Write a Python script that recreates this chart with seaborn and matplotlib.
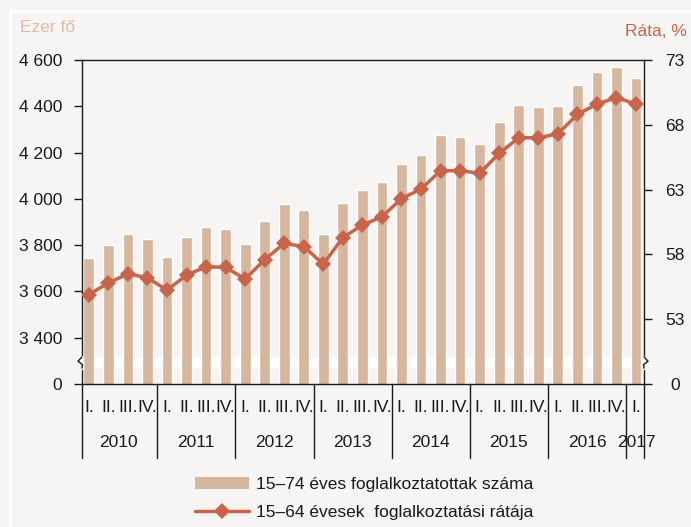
import numpy as np
import pandas as pd
import matplotlib.pyplot as plt
import seaborn as sns
from matplotlib.patches import Patch
from matplotlib.lines import Line2D

# quarterly data, 2010 Q1 - 2017 Q1
years = ["2010", "2011", "2012", "2013", "2014", "2015", "2016", "2017"]
quarters = ["I.", "II.", "III.", "IV."]
employed = [3743, 3801, 3847, 3825, 3750, 3834, 3878, 3871, 3806, 3904,
            3978, 3953, 3849, 3981, 4038, 4071, 4149, 4190, 4275, 4267,
            4237, 4332, 4406, 4398, 4401, 4492, 4548, 4570, 4521]
rate = [54.9, 55.8, 56.5, 56.2, 55.25, 56.4, 57.05, 57.0, 56.1, 57.6,
        58.85, 58.6, 57.25, 59.3, 60.27, 60.9, 62.3, 63.05, 64.46, 64.46,
        64.26, 65.8, 67.0, 67.0, 67.3, 68.8, 69.6, 70.1, 69.6]
left_ticks = [3200, 3400, 3600, 3800, 4000, 4200, 4400, 4600]
left_labels = ["0", "3 400", "3 600", "3 800", "4 000", "4 200", "4 400", "4 600"]
right_ticks = [48, 53, 58, 63, 68, 73]
right_labels = ["0", "53", "58", "63", "68", "73"]
bar_label = "15–74 éves foglalkoztatottak száma"
line_label = "15–64 évesek  foglalkoztatási rátája"

BAR = "#d6b69c"
LINE = "#c8644a"
BG = "#f6f5f3"
INK = "#1a1a1a"

sns.set_style("white")
plt.rcParams["font.family"] = ["Liberation Sans", "DejaVu Sans"]

df = pd.DataFrame({"i": np.arange(len(employed)), "employed": employed, "rate": rate})

fig = plt.figure(figsize=(6.91, 5.27), dpi=100, facecolor=BG)
ax = fig.add_axes([82 / 691, 1 - 384 / 527, (644 - 82) / 691, 324 / 527])
ax.set_facecolor(BG)

sns.barplot(data=df, x="i", y="employed", color=BAR, saturation=1, width=0.55,
            ax=ax, zorder=2)
ax.axhspan(3269, 3317, color="white", zorder=1, lw=0)
ax.set_ylim(3200, 4600)
ax.set_xlim(-0.35, 28.41)
ax.set_yticks(left_ticks)
ax.set_yticklabels(left_labels)
ax.set_xlabel("")
ax.set_ylabel("")
ax.tick_params(axis="y", direction="out", length=5.8, width=1, pad=8.6,
               labelsize=12.5, colors=INK, left=True)
ax.tick_params(axis="x", length=0, labelbottom=False)
for s in ["left", "top", "bottom"]:
    ax.spines[s].set_color(INK)
    ax.spines[s].set_linewidth(1)
ax.spines["right"].set_visible(False)

ax2 = ax.twinx()
sns.lineplot(data=df, x="i", y="rate", ax=ax2, color=LINE, linewidth=2.5,
             marker="D", markersize=8, markeredgewidth=0)
ax2.set_ylim(48, 73)
ax2.set_yticks(right_ticks)
ax2.set_yticklabels(right_labels)
ax2.set_ylabel("")
ax2.set_xlabel("")
ax2.tick_params(axis="y", direction="out", length=5.8, width=1, pad=16.5,
                labelsize=12.5, colors=INK, right=True)
for lbl in ax2.get_yticklabels():
    lbl.set_horizontalalignment("center")
for s in ["left", "top", "bottom"]:
    ax2.spines[s].set_visible(False)
ax2.spines["right"].set_color(INK)
ax2.spines["right"].set_linewidth(1)
ax2.set_xlim(-0.35, 28.41)

# axis break marks on both spines
px = 1 / 562
for x0, sgn in [(0, -1), (1, 1)]:
    ax2.plot([x0, x0], [0.049, 0.084], transform=ax2.transAxes, color=BG,
             lw=2.5, clip_on=False, zorder=10)
    ax2.plot([x0, x0 + sgn * 4 * px, x0 + sgn * 0.5 * px * -1, x0],
             [0.084, 0.070, 0.060, 0.049], transform=ax2.transAxes,
             color=INK, lw=1, clip_on=False, zorder=11)

# category axis: quarters, years and separators
trans = ax.get_xaxis_transform()
for i in range(len(employed)):
    ax.text(i, -0.074, quarters[i % 4], transform=trans, ha="center",
            va="center", fontsize=12.5, color=INK)
for k, y in enumerate(years):
    idx = [i for i in range(len(employed)) if i // 4 == k]
    ax.text(np.mean(idx), -0.182, y, transform=trans, ha="center",
            va="center", fontsize=12.5, color=INK)
seps = [-0.35] + [4 * k + 3.5 for k in range(7)] + [28.41]
for xs in seps:
    ax.plot([xs, xs], [0, -0.228], transform=trans, color=INK, lw=1,
            clip_on=False)

fig.text(20 / 691, 1 - 27 / 527, "Ezer fő", color="#dcbca6", fontsize=12.5,
         ha="left", va="center")
fig.text(687 / 691, 1 - 32 / 527, "Ráta, %", color=LINE, fontsize=12.5,
         ha="right", va="center")

handles = [Patch(facecolor=BAR, edgecolor="none"),
           Line2D([], [], color=LINE, lw=2.5, marker="D", markersize=8,
                  markeredgewidth=0)]
fig.legend(handles, [bar_label, line_label], loc="center",
           bbox_to_anchor=(0.5275, 0.054), frameon=False, fontsize=12.5,
           handlelength=3.1, labelspacing=0.75, handletextpad=0.4,
           labelcolor=INK)

# panel frame lines of the original page
fig.add_artist(Line2D([10 / 691, 1], [1 - 11 / 527, 1 - 11 / 527],
                      color="white", lw=2))
fig.add_artist(Line2D([10 / 691, 10 / 691], [0, 1 - 11 / 527],
                      color="white", lw=2))

fig.savefig("out.png", dpi=100, facecolor=BG)
